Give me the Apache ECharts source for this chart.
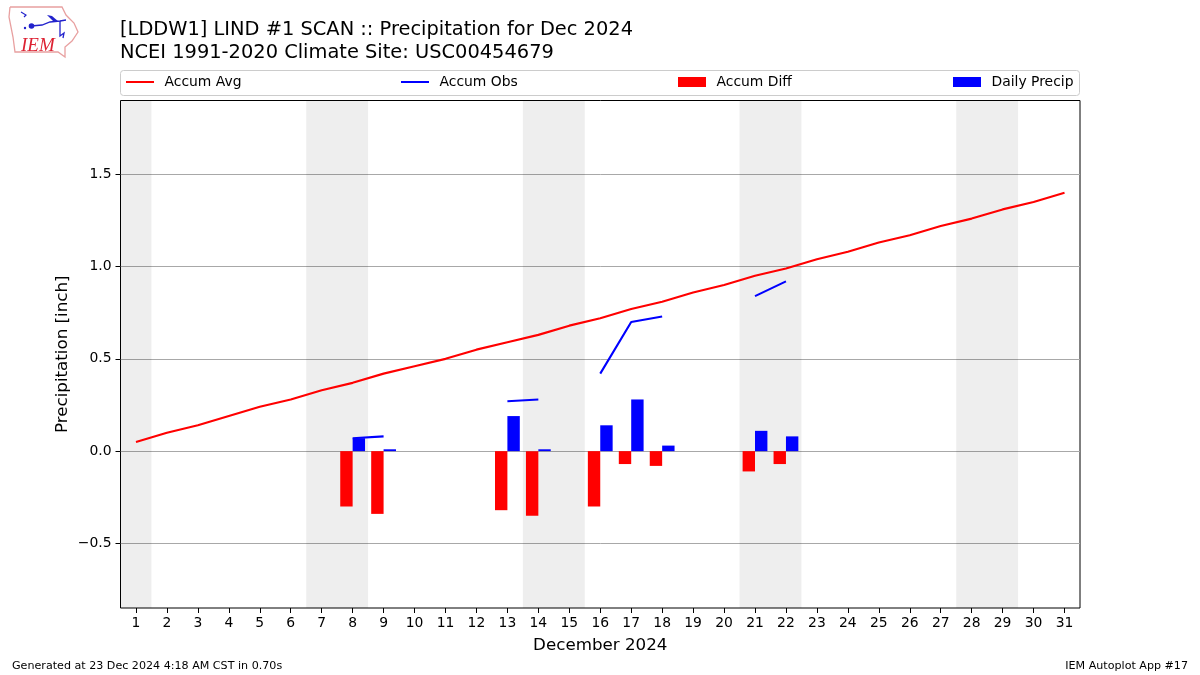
<!DOCTYPE html>
<html><head><meta charset="utf-8">
<script src="https://cdn.jsdelivr.net/npm/echarts@6/dist/echarts.min.js"></script>
<style>html,body{margin:0;padding:0;background:#fff}#c{width:1200px;height:675px}</style>
</head><body><div id="c"></div>
<script>
const days = [1,2,3,4,5,6,7,8,9,10,11,12,13,14,15,16,17,18,19,20,21,22,23,24,25,26,27,28,29,30,31];
const accumAvg = [.05,.10,.14,.19,.24,.28,.33,.37,.42,.46,.50,.55,.59,.63,.68,.72,.77,.81,.86,.90,.95,.99,1.04,1.08,1.13,1.17,1.22,1.26,1.31,1.35,1.40];
const accumObs = [null,null,null,null,null,null,null,.07,.08,null,null,null,.27,.28,null,.42,.70,.73,null,null,.84,.92,null,null,null,null,null,null,null,null,null];
const accumDiff = [null,null,null,null,null,null,null,-.30,-.34,null,null,null,-.32,-.35,null,-.30,-.07,-.08,null,null,-.11,-.07,null,null,null,null,null,null,null,null,null];
const dailyPrecip = [null,null,null,null,null,null,null,.07,.01,null,null,null,.19,.01,null,.14,.28,.03,null,null,.11,.08,null,null,null,null,null,null,null,null,null];
const weekends = [[.5,1.5],[6.5,8.5],[13.5,15.5],[20.5,22.5],[27.5,29.5]];
const yTicks = [-.5,0,.5,1,1.5];
const titleText = "[LDDW1] LIND #1 SCAN :: Precipitation for Dec 2024\nNCEI 1991-2020 Climate Site: USC00454679";
const footLeft = "Generated at 23 Dec 2024 4:18 AM CST in 0.70s";
const footRight = "IEM Autoplot App #17";
const pair = a => days.map((d,i)=>[d,a[i]]);
const F = "DejaVu Sans";
const legendAt = (name,left,icon,h)=>({show:true,data:[name],left,top:75,orient:'horizontal',padding:0,
  icon,itemWidth:28,itemHeight:h,itemGap:0,selectedMode:false,
  textStyle:{fontFamily:F,fontSize:13.9,color:'#000',padding:[0,0,0,5.5]}});
const chart = echarts.init(document.getElementById('c'),null,{renderer:'canvas'});
chart.setOption({
  animation:false,
  backgroundColor:'#fff',
  title:[
    {text:titleText,left:120,top:19,padding:0,textStyle:{fontFamily:F,fontSize:19.42,fontWeight:'normal',color:'#000',lineHeight:22.5}},
    {text:footLeft,left:12,top:661,padding:0,textStyle:{fontFamily:F,fontSize:11.12,fontWeight:'normal',color:'#000'}},
    {text:footRight,right:12,top:661,padding:0,textStyle:{fontFamily:F,fontSize:11.12,fontWeight:'normal',color:'#000'}}
  ],
  legend:[legendAt('Accum Avg',126,'rect',2),legendAt('Accum Obs',401,'rect',2),legendAt('Accum Diff',678,'rect',10),legendAt('Daily Precip',953,'rect',10)],
  grid:{left:120.5,right:120,top:100.5,bottom:67,show:true,borderColor:'#000',borderWidth:1,backgroundColor:'transparent',containLabel:false},
  xAxis:{type:'value',min:.5,max:31.5,
    name:'December 2024',nameLocation:'middle',nameGap:29,nameTextStyle:{fontFamily:F,fontSize:16.7,color:'#000'},
    splitLine:{show:false},
    axisLine:{show:false,onZero:false},
    axisTick:{show:true,length:5,lineStyle:{color:'#000',width:1},customValues:days},
    axisLabel:{fontFamily:F,fontSize:13.9,color:'#000',margin:8,customValues:days,formatter:v=>String(v)}
  },
  yAxis:{type:'value',min:-.85,max:1.9,
    name:'Precipitation [inch]',nameLocation:'middle',nameGap:49,nameMoveOverlap:false,nameTextStyle:{fontFamily:F,fontSize:16.7,color:'#000'},
    splitLine:{show:true,lineStyle:{color:'#a8a8a8',width:1}},
    axisLine:{show:false,onZero:false},
    axisTick:{show:true,length:5,lineStyle:{color:'#000',width:1},customValues:yTicks},
    axisLabel:{fontFamily:F,fontSize:13.9,color:'#000',margin:9,padding:[2,0,0,0],customValues:yTicks,formatter:v=>(v<0?'\u2212':'')+Math.abs(v).toFixed(1)},
    interval:.5
  },
  series:[
    {name:'Accum Avg',type:'line',data:pair(accumAvg),showSymbol:false,z:5,
      lineStyle:{color:'#f00',width:2.1},itemStyle:{color:'#f00'},
      markArea:{silent:true,itemStyle:{color:'rgba(0,0,0,0.068)'},data:weekends.map(w=>[{xAxis:w[0]},{xAxis:w[1]}])}},
    {name:'Accum Obs',type:'line',data:pair(accumObs),showSymbol:false,connectNulls:false,z:5,
      lineStyle:{color:'#00f',width:2.1},itemStyle:{color:'#00f'}},
    {name:'Accum Diff',type:'bar',data:pair(accumDiff),barWidth:12.4,barGap:0,z:3,itemStyle:{color:'#f00'}},
    {name:'Daily Precip',type:'bar',data:pair(dailyPrecip),barWidth:12.4,barGap:0,z:3,itemStyle:{color:'#00f'}}
  ],
  graphic:[
    {type:'rect',silent:true,shape:{x:120.5,y:70.5,width:959,height:25,r:3},style:{fill:'#fff',stroke:'#ccc',lineWidth:1},z:-1},
    {type:'polyline',silent:true,shape:{points:[[10,7],[62,7],[66,15],[74,23],[78,32],[72,41],[65,47],[65,57],[58,52],[15,52],[13,37],[9,17],[10,7]]},style:{fill:'none',stroke:'#e8a0a0',lineWidth:1.3}},
    {type:'polyline',silent:true,shape:{points:[[21,12],[26,15],[24,17]]},style:{fill:'none',stroke:'#22c',lineWidth:1.2}},
    {type:'polyline',silent:true,shape:{points:[[31,26],[42,25],[50,22],[60,21],[66,20]]},style:{fill:'none',stroke:'#22c',lineWidth:1.3}},
    {type:'polyline',silent:true,shape:{points:[[60,21],[60,36],[64,33],[63,38]]},style:{fill:'none',stroke:'#22c',lineWidth:1.3}},
    {type:'polygon',silent:true,shape:{points:[[47,15],[52,16],[59,22],[54,22]]},style:{fill:'#22c'}},
    {type:'circle',silent:true,shape:{cx:31.5,cy:26,r:2.8},style:{fill:'#22c'}},
    {type:'circle',silent:true,shape:{cx:25,cy:28,r:1.2},style:{fill:'#22c'}},
    {type:'text',silent:true,style:{x:21,y:36,text:'IEM',fill:'#d23',font:'italic 19px "Liberation Serif"'}}
  ]
});
</script></body></html>
